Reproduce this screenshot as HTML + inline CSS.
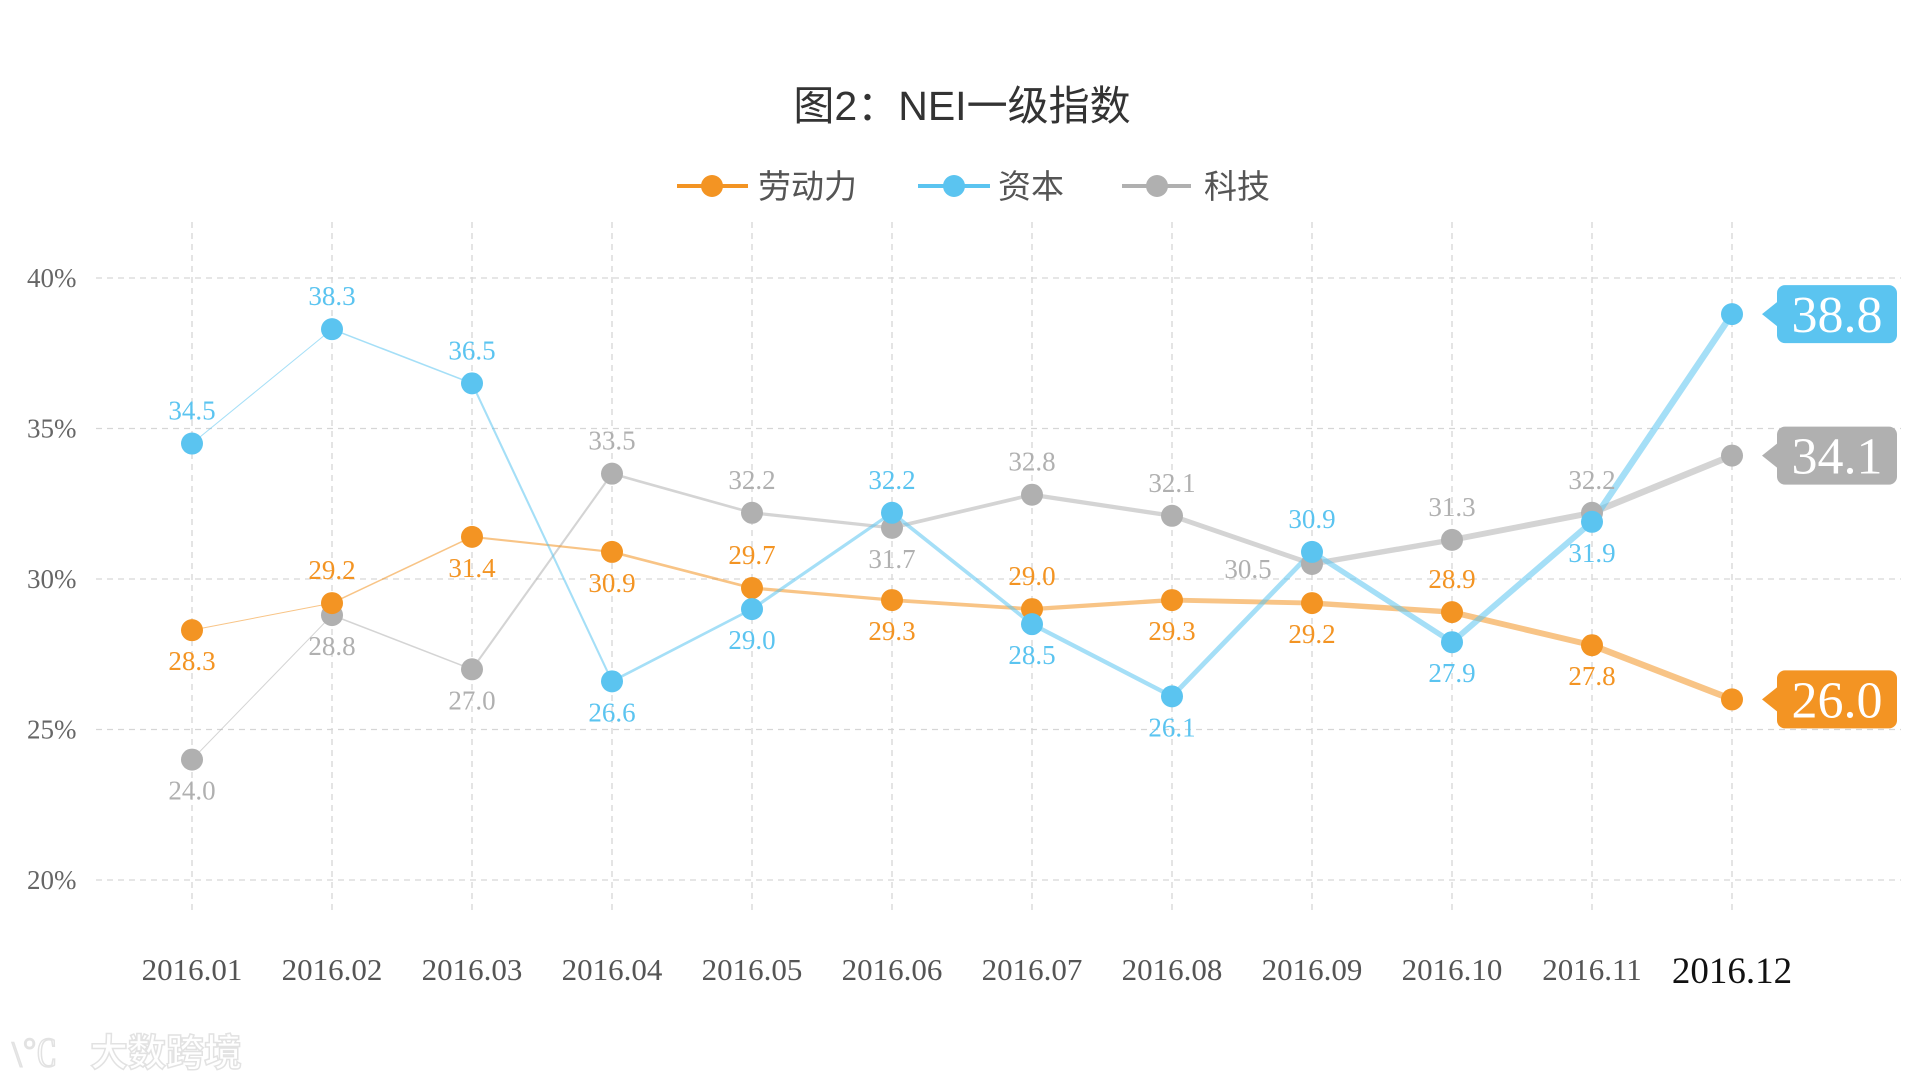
<!DOCTYPE html>
<html><head><meta charset="utf-8"><style>
body{margin:0;background:#fff;}
svg{display:block;font-family:"Liberation Serif","Noto Serif CJK SC",serif;}
.cjk{font-family:"Liberation Sans","Noto Sans CJK SC",sans-serif;}
</style></head><body>
<svg id="chart" width="1920" height="1080" viewBox="0 0 1920 1080" xmlns="http://www.w3.org/2000/svg">
<text class="cjk" x="962" y="120" text-anchor="middle" font-size="41" fill="#333">图2：NEI一级指数</text>
<g>
 <g><line x1="677" y1="186" x2="748" y2="186" stroke="#f39423" stroke-width="4"/><circle cx="712" cy="186" r="11" fill="#f39423"/><text class="cjk" x="758" y="198" font-size="33" fill="#555">劳动力</text></g>
 <g><line x1="918" y1="186" x2="990" y2="186" stroke="#5bc4f0" stroke-width="4"/><circle cx="954" cy="186" r="11" fill="#5bc4f0"/><text class="cjk" x="998" y="198" font-size="33" fill="#555">资本</text></g>
 <g><line x1="1122" y1="186" x2="1191" y2="186" stroke="#b0b0b0" stroke-width="4"/><circle cx="1157" cy="186" r="11" fill="#b0b0b0"/><text class="cjk" x="1204" y="198" font-size="33" fill="#555">科技</text></g>
</g>
<g id="grid"></g><g id="lines"></g><g id="dots"></g><g id="labels"></g>
<text class="cjk" x="90" y="1066" font-size="38" font-weight="bold" fill="#fff" stroke="#e2e2e2" stroke-width="1.5">大数跨境</text>
<text x="12" y="1066" font-size="36" fill="#fff" stroke="#e2e2e2" stroke-width="1.5">\℃</text>
</svg>
<script>
const categories=["2016.01","2016.02","2016.03","2016.04","2016.05","2016.06","2016.07","2016.08","2016.09","2016.10","2016.11","2016.12"];
const labor=[28.3,29.2,31.4,30.9,29.7,29.3,29.0,29.3,29.2,28.9,27.8,26.0];
const capital=[34.5,38.3,36.5,26.6,29.0,32.2,28.5,26.1,30.9,27.9,31.9,38.8];
const tech=[24.0,28.8,27.0,33.5,32.2,31.7,32.8,32.1,30.5,31.3,32.2,34.1];
const yTicks=[20,25,30,35,40];
const laborPos=["b","a","b","b","a","b","a","b","b","a","b","e"];
const capitalPos=["a","a","a","b","b","a","b","b","a","b","b","e"];
const techPos=["b","b","b","a","a","b","a","a","l","a","a","e"];
const NS="http://www.w3.org/2000/svg";
const X=i=>192+i*140.0;
const Y=v=>880-(v-20)*30.1;
function mk(tag,attrs,parent,txt){const e=document.createElementNS(NS,tag);for(const k in attrs)e.setAttribute(k,attrs[k]);if(txt!==undefined)e.textContent=txt;parent.appendChild(e);return e;}
const grid=document.getElementById('grid'),lines=document.getElementById('lines'),dots=document.getElementById('dots'),labels=document.getElementById('labels');
yTicks.forEach(t=>{
 const l=mk('line',{x1:96,x2:1901,y1:Y(t),y2:Y(t),stroke:'#d6d6d6','stroke-width':1.3,'stroke-dasharray':'6 5'},grid);
 
 
 const tx=mk('text',{x:27,y:Y(t)+9,'font-size':27,fill:'#666'},grid,t+'%');
 
 
});
categories.forEach((c,i)=>{
 const l=mk('line',{x1:X(i),x2:X(i),y1:222,y2:914,stroke:'#d6d6d6','stroke-width':1.3,'stroke-dasharray':'6 5'},grid);
 
 
 const last=i===categories.length-1;
 const tx=mk('text',{x:X(i),y:last?983:980,'text-anchor':'middle','font-size':last?37:31,fill:last?'#111':'#555'},grid,c);
 
 
});
function series(vals,pos,color,name){
 for(let i=0;i<vals.length-1;i++){
  const s=mk('line',{x1:X(i),y1:Y(vals[i]),x2:X(i+1),y2:Y(vals[i+1]),stroke:color,'stroke-opacity':0.55,'stroke-width':1+i*0.55,'stroke-linecap':'round'},lines);
  
  
 }
 vals.forEach((v,i)=>{
  const d=mk('circle',{cx:X(i),cy:Y(v),r:11,fill:color},dots);
  
  
  const p=pos[i];
  if(p==='e'){
   const g=mk('g',{},labels);
   
   
   const y=Y(v);
   mk('path',{d:`M1762 ${y} L1777 ${y-12} L1777 ${y+12} Z`,fill:color},g);
   mk('rect',{x:1777,y:y-29,width:120,height:58,rx:8,fill:color},g);
   mk('text',{x:1837,y:y+18,'text-anchor':'middle','font-size':52,fill:'#fff'},g,v.toFixed(1));
  }else{
   let x=X(i),y=Y(v);
   if(p==='a')y-=24;else if(p==='b')y+=40;else{x-=64;y+=14;}
   const t=mk('text',{x:x,y:y,'text-anchor':'middle','font-size':27,fill:color},labels,v.toFixed(1));
   
   
  }
 });
}
series(tech,techPos,'#b0b0b0','tech');
series(labor,laborPos,'#f39423','labor');
series(capital,capitalPos,'#5bc4f0','capital');
</script>
</body></html>
